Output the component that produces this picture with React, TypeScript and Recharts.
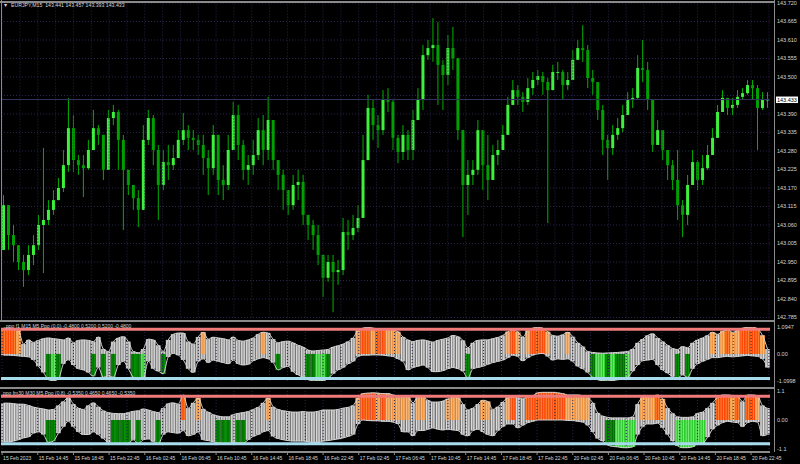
import React from 'react';
import { ComposedChart, Bar, Line, XAxis, YAxis, CartesianGrid, ReferenceLine } from 'recharts';

// ---------- DATA ----------
const SYMBOL_HEADER = 'EURJPY,M15  143.441 143.457 143.393 143.433';
const P1_TITLE = 'ppo f1 M15 M5 Ppo (0.0) -0.4800 0.5200 0.5200 -0.4800';
const P2_TITLE = 'ppo fm30 M30 M5 Ppo (0.8) -0.5350 0.4650 0.4650 -0.5350';

const SPAN = 345; // M15 bars visible in the window
const BID = 143.433;
const FIRST_OPEN = 142.986;

const TIME_LABELS = [
  '15 Feb 2023', '15 Feb 14:45', '15 Feb 18:45', '15 Feb 22:45', '16 Feb 02:45', '16 Feb 06:45',
  '16 Feb 10:45', '16 Feb 14:45', '16 Feb 18:45', '16 Feb 22:45', '17 Feb 02:45', '17 Feb 06:45',
  '17 Feb 10:45', '17 Feb 14:45', '17 Feb 18:45', '17 Feb 22:45', '20 Feb 02:45', '20 Feb 06:45',
  '20 Feb 10:45', '20 Feb 14:45', '20 Feb 18:45', '20 Feb 22:45',
];

const PRICE_TICKS = [143.72, 143.665, 143.61, 143.555, 143.5, 143.445, 143.39, 143.335, 143.28, 143.225,
  143.17, 143.115, 143.06, 143.005, 142.95, 142.895, 142.84, 142.785];
const P1_TICKS = [1.0947, 0, -1.0998];
const P2_TICKS = [1.1, 0, -1.1];
const P1_LEVELS = [1.0, -1.0];
const P2_LEVELS = [0.9, -0.9];

const CLOSES = [143.119,143.030,143.000,142.950,142.926,142.971,143.000,143.060,143.075,143.105,
143.134,143.170,143.238,143.348,143.253,143.238,143.229,143.283,143.348,143.328,
143.224,143.378,143.396,143.313,143.224,143.179,143.140,143.105,143.313,143.378,
143.283,143.179,143.247,143.238,143.259,143.313,143.342,143.319,143.313,143.298,
143.259,143.229,143.328,143.194,143.179,143.283,143.387,143.298,143.224,143.238,
143.268,143.342,143.283,143.372,143.253,143.209,143.164,143.119,143.179,143.188,
143.090,143.060,143.030,142.971,142.903,142.950,142.920,142.926,143.039,143.030,
143.051,143.081,143.253,143.408,143.357,143.342,143.432,143.426,143.319,143.277,
143.328,143.283,143.372,143.432,143.565,143.586,143.595,143.536,143.506,143.586,
143.556,143.342,143.179,143.209,143.224,143.342,143.238,143.194,143.268,143.283,
143.328,143.417,143.461,143.441,143.426,143.467,143.491,143.503,143.485,143.461,
143.515,143.515,143.476,143.491,143.551,143.586,143.580,143.497,143.485,143.402,
143.313,143.289,143.328,143.348,143.387,143.432,143.438,143.527,143.521,143.432,
143.298,143.342,143.283,143.238,143.194,143.119,143.090,143.179,143.247,143.194,
143.229,143.268,143.319,143.396,143.438,143.408,143.417,143.441,143.452,143.476,
143.467,143.408,143.432,143.433];

const HIGHS = [143.149,143.090,143.060,143.000,142.971,143.000,143.030,143.090,143.289,143.134,
143.164,143.200,143.283,143.438,143.387,143.268,143.268,143.313,143.402,143.357,
143.268,143.402,143.417,143.402,143.328,143.224,143.179,143.164,143.357,143.402,
143.387,143.298,143.283,143.298,143.298,143.342,143.393,143.357,143.342,143.328,
143.328,143.283,143.357,143.313,143.238,143.328,143.426,143.417,143.313,143.268,
143.313,143.378,143.387,143.441,143.357,143.253,143.224,143.164,143.209,143.224,
143.209,143.090,143.075,143.060,142.971,142.971,142.971,142.956,143.081,143.075,
143.090,143.119,143.328,143.447,143.432,143.387,143.461,143.467,143.432,143.328,
143.357,143.342,143.402,143.467,143.595,143.610,143.675,143.663,143.551,143.625,
143.649,143.551,143.342,143.253,143.253,143.372,143.342,143.328,143.298,143.313,
143.357,143.441,143.491,143.476,143.455,143.497,143.515,143.521,143.515,143.497,
143.536,143.545,143.521,143.515,143.580,143.610,143.654,143.595,143.521,143.476,
143.417,143.328,143.357,143.378,143.417,143.455,143.467,143.565,143.610,143.545,
143.402,143.372,143.342,143.283,143.253,143.283,143.134,143.209,143.283,143.253,
143.268,143.298,143.348,143.417,143.461,143.438,143.438,143.461,143.467,143.491,
143.491,143.476,143.455,143.455];

const LOWS = [142.986,142.986,142.950,142.926,142.876,142.911,142.941,142.986,142.917,143.060,
143.090,143.134,143.158,143.218,143.218,143.209,143.143,143.224,143.283,143.298,
143.194,143.253,143.357,143.224,143.045,143.149,143.105,143.054,143.105,143.298,
143.238,143.075,143.164,143.194,143.224,143.268,143.298,143.283,143.283,143.268,
143.209,143.149,143.209,143.149,143.134,143.164,143.283,143.253,143.194,143.179,
143.209,143.253,143.238,143.253,143.224,143.164,143.105,143.090,143.105,143.134,
143.060,143.015,142.986,142.941,142.846,142.891,142.801,142.882,142.911,142.986,
143.015,143.039,143.105,143.298,143.313,143.289,143.328,143.396,143.283,143.244,
143.253,143.253,143.253,143.387,143.402,143.551,143.545,143.417,143.402,143.476,
143.521,143.313,143.024,143.090,143.179,143.209,143.164,143.134,143.194,143.238,
143.283,143.357,143.417,143.417,143.396,143.417,143.447,143.476,143.447,143.066,
143.485,143.491,143.432,143.461,143.506,143.556,143.545,143.467,143.447,143.372,
143.268,143.194,143.268,143.313,143.336,143.402,143.408,143.432,143.485,143.402,
143.277,143.298,143.253,143.194,143.164,143.075,143.024,143.060,143.209,143.164,
143.179,143.224,143.268,143.328,143.396,143.387,143.387,143.408,143.432,143.447,
143.432,143.283,143.402,143.408];

// indicator 1: upper / lower envelope and highlight code (0 none, 1 orange, 2 red, 3 dark green, 4 lime)
const P1_HI = [1.05,1.05,1.03,0.95,0.40,0.57,0.47,0.55,0.62,0.65,
0.62,0.60,0.57,0.65,0.45,0.55,0.57,0.55,0.50,0.69,
0.20,0.10,0.50,0.65,0.70,0.50,0.10,0.05,0.20,0.60,
0.57,0.35,0.10,0.57,0.80,0.85,0.85,0.50,0.40,0.69,
0.88,0.60,0.68,0.65,0.62,0.57,0.69,0.55,0.52,0.57,
0.65,0.80,0.88,0.85,0.60,0.45,0.50,0.52,0.45,0.35,
0.28,0.16,0.12,0.14,0.16,0.18,0.28,0.33,0.40,0.50,
0.65,0.95,1.05,1.09,1.05,1.02,1.00,1.00,0.98,0.90,
0.69,0.57,0.50,0.55,0.57,0.53,0.48,0.55,0.60,0.65,
0.75,0.70,0.55,0.25,0.45,0.55,0.57,0.57,0.62,0.67,
0.75,0.90,0.98,0.90,0.69,0.95,1.05,1.09,1.05,0.90,
0.75,0.72,0.78,0.88,0.70,0.45,0.30,0.10,0.06,0.04,
0.03,0.04,0.05,0.06,0.08,0.10,0.20,0.45,0.60,0.75,
0.82,0.65,0.50,0.35,0.22,0.18,0.30,0.25,0.45,0.57,
0.65,0.75,0.88,0.80,0.92,0.98,0.88,0.95,1.05,1.08,
1.09,1.02,0.75,0.20];
const P1_LO = [-0.05,-0.05,-0.06,-0.08,-0.10,-0.12,-0.24,-0.50,-0.75,-1.05,
-1.09,-1.02,-0.40,-0.24,-0.45,-0.60,-0.65,-0.75,-0.90,-0.55,
-0.95,-0.90,-0.95,-0.45,-0.30,-0.60,-0.95,-1.05,-1.00,-0.30,
-0.60,-0.70,-0.80,-0.12,0.02,-0.05,-0.24,-0.60,-0.75,-0.30,
-0.20,-0.35,-0.25,-0.30,-0.35,-0.40,-0.25,-0.40,-0.45,-0.42,
-0.28,-0.20,-0.15,-0.20,-0.35,-0.65,-0.55,-0.50,-0.72,-0.85,
-0.95,-1.05,-1.09,-1.09,-1.08,-1.00,-0.80,-0.65,-0.55,-0.40,
-0.30,-0.10,-0.05,-0.05,-0.04,-0.04,-0.05,-0.08,-0.10,-0.20,
-0.30,-0.65,-0.55,-0.50,-0.45,-0.55,-0.72,-0.72,-0.68,-0.60,
-0.55,-0.60,-0.70,-0.98,-0.60,-0.55,-0.50,-0.42,-0.35,-0.30,
-0.25,-0.15,-0.05,-0.10,-0.28,-0.15,-0.05,0.00,0.02,-0.10,
-0.25,-0.20,-0.22,-0.20,-0.30,-0.50,-0.60,-0.75,-0.95,-1.05,
-1.09,-1.09,-1.08,-1.05,-1.02,-0.95,-0.70,-0.45,-0.28,-0.25,
-0.22,-0.45,-0.65,-0.78,-0.92,-0.98,-0.85,-0.95,-0.60,-0.40,
-0.30,-0.22,-0.15,-0.15,-0.12,-0.10,-0.12,-0.10,-0.08,-0.06,
-0.08,-0.10,-0.20,-0.55];
const P1_CODE = [2,2,2,1,0,0,0,0,0,3,
4,3,0,0,0,0,0,0,3,0,
3,0,3,0,0,0,3,3,4,0,
0,0,3,0,0,0,0,0,0,0,
1,0,0,0,0,0,0,0,0,0,
0,0,1,0,0,3,0,0,0,0,
0,3,3,4,4,3,0,0,0,0,
0,1,2,2,1,2,2,1,1,1,
0,0,0,0,0,0,0,0,0,0,
0,0,0,3,0,0,0,0,0,0,
0,1,2,1,0,1,2,2,2,1,
0,0,0,1,0,0,0,0,3,4,
4,3,4,3,3,4,0,0,0,0,
0,0,0,0,0,3,0,3,0,0,
0,0,1,0,1,2,1,1,2,2,
2,2,1,0];

// indicator 2
const P2_HI = [0.64,0.64,0.62,0.60,0.60,0.55,0.49,0.45,0.42,0.38,
0.40,0.55,0.70,0.85,0.60,0.45,0.40,0.55,0.65,0.50,
0.35,0.28,0.25,0.24,0.24,0.28,0.33,0.35,0.42,0.38,
0.32,0.28,0.45,0.62,0.65,0.60,0.95,0.45,0.65,0.83,
0.42,0.30,0.20,0.15,0.12,0.12,0.20,0.25,0.28,0.32,
0.40,0.48,0.65,0.83,0.50,0.40,0.35,0.32,0.30,0.30,
0.32,0.30,0.30,0.33,0.38,0.38,0.38,0.40,0.45,0.48,
0.55,0.83,1.00,1.02,1.03,1.02,1.00,1.00,0.95,0.90,
0.87,0.87,0.65,0.87,0.87,0.75,0.68,0.68,0.72,0.80,
0.87,0.85,0.60,0.38,0.45,0.60,0.75,0.70,0.40,0.50,
0.68,0.85,0.87,0.85,0.80,0.88,0.92,1.03,1.05,1.05,
1.05,1.03,1.00,0.95,0.95,0.95,0.92,0.85,0.65,0.27,
0.15,0.10,0.08,0.08,0.08,0.08,0.12,0.60,0.85,0.87,
0.90,0.95,0.80,0.45,0.25,0.12,0.10,0.10,0.12,0.25,
0.30,0.45,0.65,0.85,0.95,0.95,0.93,0.90,0.70,0.95,
0.95,0.92,0.55,0.45];
const P2_LO = [-0.83,-0.83,-0.80,-0.75,-0.68,-0.64,-0.50,-0.45,-0.55,-0.85,
-0.80,-0.50,-0.25,-0.05,-0.25,-0.45,-0.55,-0.55,-0.45,-0.55,
-0.70,-0.85,-0.90,-0.90,-0.92,-0.88,-0.75,-0.90,-0.75,-0.72,
-0.82,-0.90,-0.55,-0.45,-0.48,-0.50,-0.40,-0.60,-0.55,-0.45,
-0.75,-0.78,-0.82,-0.88,-0.90,-0.92,-0.85,-0.88,-0.88,-0.75,
-0.62,-0.55,-0.45,-0.40,-0.62,-0.70,-0.75,-0.78,-0.80,-0.80,
-0.80,-0.83,-0.85,-0.85,-0.80,-0.78,-0.75,-0.72,-0.68,-0.62,
-0.55,-0.15,0.00,-0.02,-0.03,-0.03,-0.05,-0.05,-0.08,-0.15,
-0.45,-0.45,-0.60,-0.40,-0.40,-0.35,-0.30,-0.35,-0.38,-0.35,
-0.38,-0.40,-0.55,-0.60,-0.40,-0.35,-0.45,-0.55,-0.60,-0.40,
-0.25,-0.15,-0.15,-0.30,-0.20,-0.10,-0.05,0.00,0.00,0.00,
0.00,0.00,0.00,-0.02,-0.02,-0.05,-0.08,-0.20,-0.45,-0.70,
-0.80,-0.95,-1.00,-1.02,-1.05,-1.05,-1.02,-0.55,-0.25,-0.15,
-0.15,-0.12,-0.30,-0.55,-0.80,-0.98,-1.05,-1.05,-1.02,-0.90,
-0.88,-0.65,-0.35,-0.20,-0.10,-0.05,-0.08,-0.10,-0.25,-0.10,
-0.05,-0.08,-0.60,-0.55];
const P2_CODE = [0,0,0,0,0,0,0,0,0,3,
3,0,0,0,0,0,0,0,0,0,
0,0,3,3,3,3,0,3,0,0,
0,3,0,0,0,0,2,0,0,1,
0,0,0,3,3,3,0,3,3,0,
0,0,0,1,0,0,0,0,0,0,
0,0,0,0,0,0,0,0,0,0,
0,1,2,2,2,1,2,1,1,1,
1,1,0,1,1,0,0,0,0,1,
1,1,0,0,0,0,1,1,0,0,
0,1,2,0,0,2,2,2,2,2,
2,2,2,1,1,1,1,1,0,0,
0,3,3,4,4,4,4,0,1,1,
1,2,1,0,0,4,4,4,4,4,
4,0,0,2,2,2,1,2,0,2,
2,1,0,0];

// ---------- derived table ----------
const N = CLOSES.length;
const rows = CLOSES.map((close, i) => {
  const open = i === 0 ? FIRST_OPEN : CLOSES[i - 1];
  const high = Math.max(HIGHS[i], open, close);
  const low = Math.min(LOWS[i], open, close);
  return {
    i,
    t: ((i + 0.5) * SPAN) / N,
    open, close, high, low,
    hl: [low, high],
    p1Hi: P1_HI[i], p1Lo: P1_LO[i], p1Code: P1_CODE[i], p1: [P1_LO[i], P1_HI[i]],
    p2Hi: P2_HI[i], p2Lo: P2_LO[i], p2Code: P2_CODE[i], p2: [P2_LO[i], P2_HI[i]],
  };
});
const TIME_TICKS = TIME_LABELS.map((_, k) => k * 16 + 0.5);
const GRID_TICKS: number[] = [];
for (let m = 0; m * 8 + 0.5 <= SPAN; m++) GRID_TICKS.push(m * 8 + 0.5);

// ---------- styles ----------
const FONT = '"Liberation Sans", Arial, sans-serif';
const TEXT = '#d6d6d6';
const GRID = '#26264e';
const BORDER = '#8a8a8a';
const PALETTE: Record<number, [string, string]> = {
  0: ['#9a9a9a', '#e6e6e6'],
  1: ['#ef9440', '#f8c088'],
  2: ['#ff4808', '#ff8636'],
  3: ['#006c00', '#0a9a0a'],
  4: ['#2ecc2e', '#7cf07c'],
};

function Striped({ x, y, w, h, code }: any) {
  if (!(h > 0) || !(w > 0)) return null;
  const [base, light] = PALETTE[code];
  return (
    <g>
      <rect x={x} y={y} width={w} height={h} fill={base} />
      <rect x={x + w * 0.12} y={y} width={0.9} height={h} fill={light} />
      <rect x={x + w * 0.6} y={y} width={0.9} height={h} fill={light} />
    </g>
  );
}

function Candle(props: any) {
  const { x, y, width, height, payload } = props;
  if (!payload || !(height >= 0)) return null;
  const { open, close, high, low } = payload;
  const span = high - low;
  const ppu = span > 0 ? height / span : 0;
  const top = y + (high - Math.max(open, close)) * ppu;
  const bot = y + (high - Math.min(open, close)) * ppu;
  const cx = x + width / 2;
  const bull = close >= open;
  return (
    <g>
      <line x1={cx} x2={cx} y1={y} y2={y + height} stroke="#00b000" strokeWidth={1} />
      <rect x={x + 1} y={top} width={Math.max(1, width - 2)} height={Math.max(1, bot - top)}
        fill={bull ? '#3cf03c' : '#00a000'} />
    </g>
  );
}

function Osc(props: any) {
  const { x, y, width, height, payload, loKey, hiKey, codeKey } = props;
  if (!payload) return null;
  const lo = payload[loKey];
  const hi = payload[hiKey];
  const code = payload[codeKey];
  const ppu = hi - lo !== 0 ? height / (hi - lo) : 0;
  const zero = y + hi * ppu;
  let overlay = null;
  if (code === 1 || code === 2) overlay = <Striped x={x} y={y} w={width} h={zero - y} code={code} />;
  if (code === 3 || code === 4) overlay = <Striped x={x} y={zero} w={width} h={y + height - zero} code={code} />;
  return (
    <g>
      <Striped x={x} y={y} w={width} h={height} code={0} />
      {overlay}
    </g>
  );
}

function BidLabel(props: any) {
  const vb = props.viewBox || {};
  const x0 = vb.x + vb.width + 6;
  return (
    <g>
      <rect x={x0} y={vb.y - 3} width={22} height={6.5} fill="#ffffff" />
      <text x={x0 + 1} y={vb.y + 2} fontSize={5.5} fontFamily={FONT} fill="#000000">{BID.toFixed(3)}</text>
    </g>
  );
}

function TimeTick(props: any) {
  const { x, y, payload } = props;
  const k = TIME_TICKS.indexOf(payload.value);
  return (
    <text x={x + 1} y={y} dy="0.71em" textAnchor="start" fontSize={5} fontFamily={FONT} fill={TEXT}>
      {TIME_LABELS[k]}
    </text>
  );
}

// the price tick that sits under the bid box is hidden by it in the reference
const priceFmt = (v: number) => (Math.abs(v - BID) < 0.02 ? '' : v.toFixed(3));

const tickStyle = { fill: TEXT, fontSize: 5.5, fontFamily: FONT };

const gridLines = GRID_TICKS.map((t) => (
  <ReferenceLine key={'g' + t} xAxisId="time" x={t} stroke={GRID} strokeDasharray="1 2" ifOverflow="extendDomain" />
));

const hline = (top: number, h = 2): React.CSSProperties => ({
  position: 'absolute', left: 0, top, width: 775, height: h, background: BORDER,
});

export default function App() {
  return (
    <div style={{ position: 'fixed', left: 0, top: 0, width: 800, height: 464, background: '#000', overflow: 'hidden' }}>
      {/* main price panel */}
      <div style={{ position: 'absolute', left: 0, top: 0 }}>
        <ComposedChart width={800} height={320} data={rows} margin={{ top: 3, right: 0, bottom: 2.5, left: 1 }}
          barCategoryGap={0} barGap={0}>
          <CartesianGrid vertical={false} stroke={GRID} strokeDasharray="1 2" />
          <XAxis dataKey="i" hide />
          <XAxis xAxisId="time" type="number" dataKey="t" domain={[0, SPAN]} allowDataOverflow hide />
          <YAxis orientation="right" width={30} domain={[PRICE_TICKS[PRICE_TICKS.length - 1], PRICE_TICKS[0]]}
            ticks={PRICE_TICKS} interval={0} allowDataOverflow tick={tickStyle} tickSize={3} tickMargin={4}
            axisLine={false} tickLine={false} tickFormatter={priceFmt} />
          {gridLines}
          <ReferenceLine y={BID} stroke="#34345e" />
          <Bar dataKey="hl" shape={(p: any) => <Candle {...p} />} isAnimationActive={false} />
          <ReferenceLine y={BID} stroke="none" label={<BidLabel />} />
        </ComposedChart>
      </div>

      {/* indicator 1 */}
      <div style={{ position: 'absolute', left: 0, top: 322 }}>
        <ComposedChart width={800} height={64} data={rows} margin={{ top: 5, right: 0, bottom: 5, left: 1 }}
          barCategoryGap={0} barGap={0}>
          <XAxis dataKey="i" hide />
          <XAxis xAxisId="time" type="number" dataKey="t" domain={[0, SPAN]} allowDataOverflow hide />
          <YAxis orientation="right" width={30} domain={[P1_TICKS[2], P1_TICKS[0]]} ticks={P1_TICKS} interval={0}
            allowDataOverflow tick={tickStyle} tickSize={3} tickMargin={4} axisLine={false} tickLine={false}
            tickFormatter={(v: number) => (v === 0 ? '0.00' : v.toFixed(4))} />
          {gridLines}
          <Bar dataKey="p1" shape={(p: any) => <Osc {...p} loKey="p1Lo" hiKey="p1Hi" codeKey="p1Code" />}
            isAnimationActive={false} />
          <Line dataKey="p1Hi" type="monotone" stroke="#d4d4d4" strokeWidth={1} dot={false} isAnimationActive={false} />
          <Line dataKey="p1Lo" type="monotone" stroke="#d4d4d4" strokeWidth={1} dot={false} isAnimationActive={false} />
          <ReferenceLine y={P1_LEVELS[0]} stroke="#f07a7a" strokeWidth={3} />
          <ReferenceLine y={P1_LEVELS[1]} stroke="#a8dcec" strokeWidth={3} />
        </ComposedChart>
      </div>

      {/* indicator 2 */}
      <div style={{ position: 'absolute', left: 0, top: 388 }}>
        <ComposedChart width={800} height={64} data={rows} margin={{ top: 3, right: 0, bottom: 3, left: 1 }}
          barCategoryGap={0} barGap={0}>
          <XAxis dataKey="i" hide />
          <XAxis xAxisId="time" type="number" dataKey="t" domain={[0, SPAN]} allowDataOverflow hide />
          <YAxis orientation="right" width={30} domain={[P2_TICKS[2], P2_TICKS[0]]} ticks={P2_TICKS} interval={0}
            allowDataOverflow tick={tickStyle} tickSize={3} tickMargin={4} axisLine={false} tickLine={false}
            tickFormatter={(v: number) => (v === 0 ? '0.00' : v.toFixed(1))} />
          {gridLines}
          <Bar dataKey="p2" shape={(p: any) => <Osc {...p} loKey="p2Lo" hiKey="p2Hi" codeKey="p2Code" />}
            isAnimationActive={false} />
          <Line dataKey="p2Hi" type="monotone" stroke="#d4d4d4" strokeWidth={1} dot={false} isAnimationActive={false} />
          <Line dataKey="p2Lo" type="monotone" stroke="#d4d4d4" strokeWidth={1} dot={false} isAnimationActive={false} />
          <ReferenceLine y={P2_LEVELS[0]} stroke="#f07a7a" strokeWidth={3} />
          <ReferenceLine y={P2_LEVELS[1]} stroke="#a8dcec" strokeWidth={3} />
        </ComposedChart>
      </div>

      {/* time axis */}
      <div style={{ position: 'absolute', left: 0, top: 440 }}>
        <ComposedChart width={800} height={24} data={rows} margin={{ top: 0, right: 30, bottom: 0, left: 1 }}>
          <XAxis type="number" dataKey="t" domain={[0, SPAN]} allowDataOverflow ticks={TIME_TICKS} interval={0}
            height={12} tickSize={3} tickMargin={1} axisLine={{ stroke: BORDER, strokeWidth: 2 }}
            tickLine={{ stroke: BORDER }} tick={<TimeTick />} />
          <YAxis hide />
        </ComposedChart>
      </div>

      {/* panel borders */}
      <div style={hline(1, 1.5)} />
      <div style={hline(320)} />
      <div style={hline(386.5)} />
      <div style={{ position: 'absolute', left: 774, top: 0, width: 1, height: 452, background: BORDER }} />
      <div style={{ position: 'absolute', left: 1, top: 0, width: 1, height: 320, background: BORDER }} />

      {/* titles */}
      <div style={{ position: 'absolute', left: 3, top: 3, fontFamily: FONT, fontSize: 5.2, color: TEXT, whiteSpace: 'pre', lineHeight: 1 }}>
        {'▼  ' + SYMBOL_HEADER}
      </div>
      <div style={{ position: 'absolute', left: 6, top: 323.5, fontFamily: FONT, fontSize: 5, color: TEXT, whiteSpace: 'pre', lineHeight: 1 }}>
        {P1_TITLE}
      </div>
      <div style={{ position: 'absolute', left: 3, top: 390.5, fontFamily: FONT, fontSize: 5, color: TEXT, whiteSpace: 'pre', lineHeight: 1 }}>
        {P2_TITLE}
      </div>
    </div>
  );
}
